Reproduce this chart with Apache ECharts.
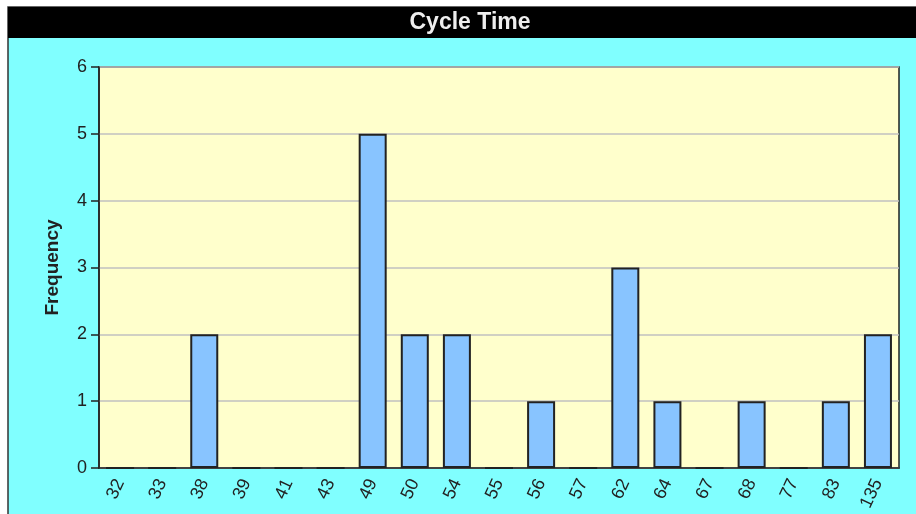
<!DOCTYPE html>
<html>
<head>
<meta charset="utf-8">
<script src="https://cdn.jsdelivr.net/npm/echarts@6/dist/echarts.min.js"></script>
<style>
html, body { margin: 0; padding: 0; background: #fff; }
#chart { width: 916px; height: 514px; }
</style>
</head>
<body>
<div id="chart"></div>
<script>
// cycle time buckets and how often each came up
var cycleTimes = ['32', '33', '38', '39', '41', '43', '49', '50', '54', '55', '56', '57', '62', '64', '67', '68', '77', '83', '135'];
var frequency = [0, 0, 2, 0, 0, 0, 5, 2, 2, 0, 1, 0, 3, 1, 0, 1, 0, 1, 2];
var yTicks = [0, 6, 1]; // min, max, step

var font = '"Liberation Sans", Arial, sans-serif';
var chart = echarts.init(document.getElementById('chart'));
var option = {
    backgroundColor: '#ffffff',
    animation: false,
    graphic: [
        {
            type: 'rect', z: -10, silent: true,
            shape: { x: 8, y: 7, width: 930, height: 520 },
            style: { fill: '#80ffff', stroke: '#333', lineWidth: 1.5 }
        },
        {
            type: 'rect', z: -9, silent: true,
            shape: { x: 8, y: 7, width: 930, height: 31 },
            style: { fill: '#000000' }
        },
        {
            type: 'text', z: 10, silent: true,
            x: 470, y: 23,
            style: {
                text: 'Cycle Time', fill: '#eeeeee',
                align: 'center', verticalAlign: 'middle',
                font: 'bold 23px ' + font
            }
        }
    ],
    grid: {
        left: 99, top: 67, right: 17, bottom: 46,
        show: true, backgroundColor: '#ffffcc',
        borderColor: '#222', borderWidth: 1.5
    },
    xAxis: {
        type: 'category',
        data: cycleTimes,
        axisLine: { lineStyle: { color: '#222', width: 1.5 } },
        axisTick: { alignWithLabel: true, length: 8, lineStyle: { color: '#222', width: 1.5 } },
        axisLabel: {
            rotate: 65, interval: 0, margin: 12,
            color: '#222', fontSize: 18, fontFamily: font
        }
    },
    yAxis: {
        type: 'value',
        min: yTicks[0], max: yTicks[1], interval: yTicks[2],
        name: 'Frequency',
        nameLocation: 'middle',
        nameGap: 37,
        nameTextStyle: {
            color: '#222', fontSize: 19, fontWeight: 'bold', fontFamily: font
        },
        axisLine: { show: true, lineStyle: { color: '#222', width: 1.5 } },
        axisTick: { show: true, length: 8, lineStyle: { color: '#222', width: 1.5 } },
        axisLabel: {
            color: '#222', fontSize: 18, margin: 12, fontFamily: font
        },
        splitLine: { lineStyle: { color: '#c0c0c0', width: 1.5 } }
    },
    series: [{
        type: 'bar',
        data: frequency,
        barWidth: 28,
        itemStyle: { color: '#88c4ff', borderColor: '#222', borderWidth: 2 }
    }]
};
chart.setOption(option);
</script>
</body>
</html>
